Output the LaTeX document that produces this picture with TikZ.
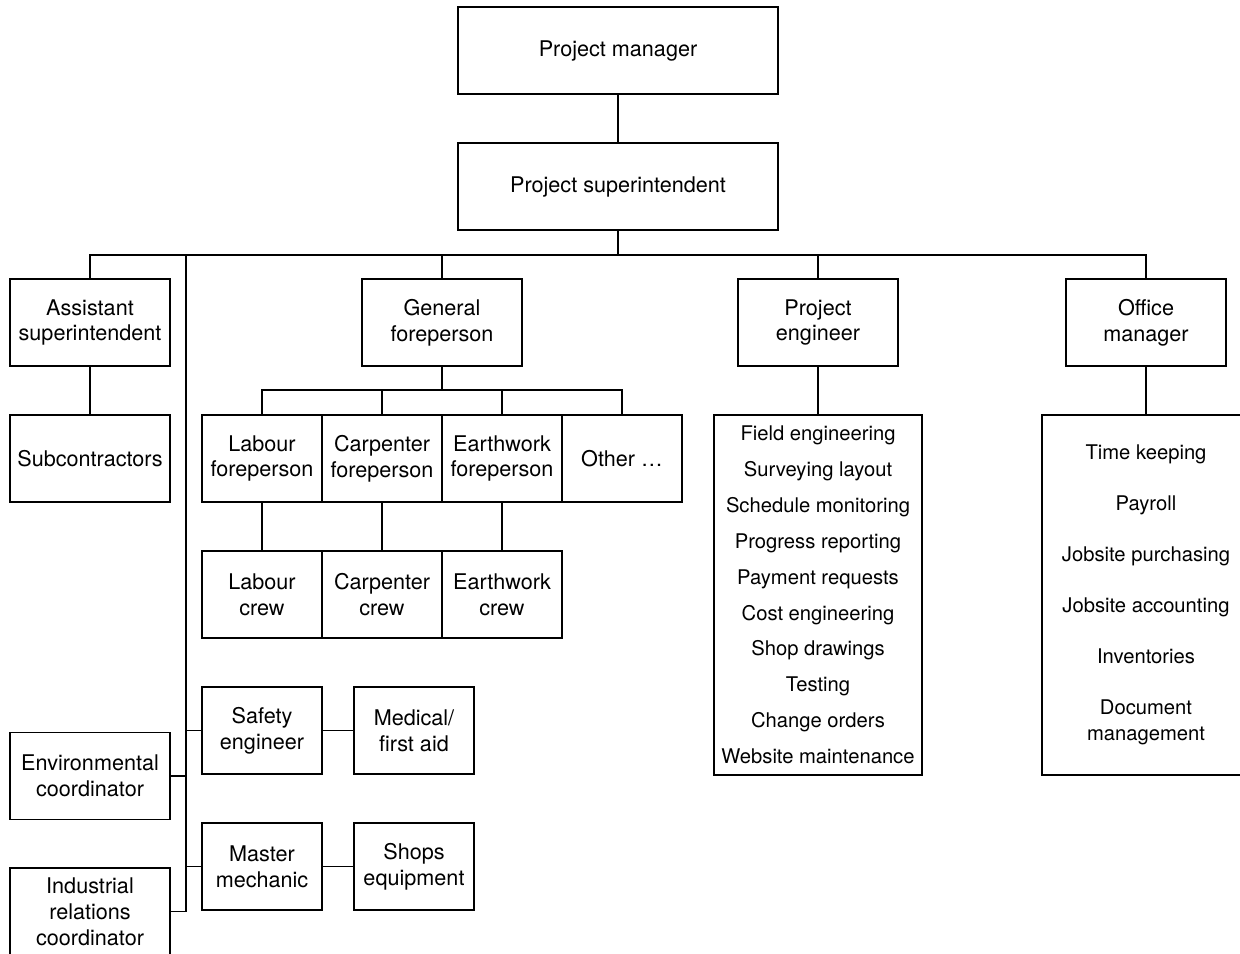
\documentclass[tikz,border=0pt]{standalone}
\usepackage{fontspec}
\setmainfont{TeX Gyre Heros}

\tikzset{
  box/.style={draw, align=center, inner sep=0pt, minimum width=32mm,
    minimum height=17.4mm, font=\fontsize{12.3}{14.7}\selectfont},
  widebox/.style={box, minimum width=64mm},
  crewbox/.style={box, minimum width=24mm},
  listbox/.style={draw, align=center, inner sep=0pt, minimum width=41.6mm,
    minimum height=72mm},
}

\begin{document}
\begin{tikzpicture}[x=0.2mm,y=-0.2mm, line width=0.8pt]
\useasboundingbox (0,0) rectangle (1240,954);

% TOP
 \node[widebox] (pm) at (618,50.5) {Project manager};
 \node[widebox] (ps) at (618,186.5) {Project superintendent};

% SECOND ROW
 \node[box] (asst)   at (90,322.5)   {Assistant\\superintendent};
 \node[box] (gen)    at (442,322.5)  {General\\foreperson};
 \node[box] (peng)   at (818,322.5)  {Project\\engineer};
 \node[box] (office) at (1146,322.5) {Office\\manager};

 \node[box] (sub) at (90,458.5) {Subcontractors};

% FOREPERSONS AND CREWS
 \node[crewbox] (labf) at (262,458.5) {Labour\\foreperson};
 \node[crewbox] (carf) at (382,458.5) {Carpenter\\foreperson};
 \node[crewbox] (earf) at (502,458.5) {Earthwork\\foreperson};
 \node[crewbox] (oth)  at (622,458.5) {Other \dots};

 \node[crewbox] (labc) at (262,594.5) {Labour\\crew};
 \node[crewbox] (carc) at (382,594.5) {Carpenter\\crew};
 \node[crewbox] (earc) at (502,594.5) {Earthwork\\crew};

% STAFF ON THE LEFT
 \node[crewbox] (safety) at (262,730.5) {Safety\\engineer};
 \node[crewbox] (med)    at (414,730.5) {Medical/\\first aid};
 \node[crewbox] (master) at (262,866.5) {Master\\mechanic};
 \node[crewbox] (shops)  at (414,866.5) {Shops\\equipment};

 \node[box] (env) at (90,776)   {Environmental\\coordinator};
 \node[box] (ind) at (90,911.5) {Industrial\\relations\\coordinator};

% DUTY LISTS
 \node[listbox, font=\fontsize{11.5}{20.4}\selectfont] (englist) at (818,595)
   {Field engineering\\Surveying layout\\Schedule monitoring\\Progress reporting\\
    Payment requests\\Cost engineering\\Shop drawings\\Testing\\Change orders\\
    Website maintenance};
 \node[listbox, font=\fontsize{11.5}{14.7}\selectfont] (offlist) at (1146,595)
   {Time keeping\\[14.3pt]Payroll\\[14.3pt]Jobsite purchasing\\[14.3pt]
    Jobsite accounting\\[14.3pt]Inventories\\[14.3pt]Document\\management};

% LINES
 \coordinate (bus)   at (618,255);
 \coordinate (spine) at (186,255);
 \coordinate (fbus)  at (442,390);

 \draw (pm) -- (ps);
 \draw (ps) -- (bus);
 \draw (asst.north) |- (bus) -| (office.north);
 \draw (gen.north) -- (gen.north |- bus);
 \draw (peng.north) -- (peng.north |- bus);

 \draw (asst) -- (sub);
 \draw (peng) -- (englist);
 \draw (office) -- (offlist);

 \draw (gen) -- (fbus);
 \draw (labf.north) |- (fbus) -| (oth.north);
 \draw (carf.north) -- (carf.north |- fbus);
 \draw (earf.north) -- (earf.north |- fbus);

 \draw (labf) -- (labc);
 \draw (carf) -- (carc);
 \draw (earf) -- (earc);

 \draw (spine) |- (ind.east);
 \draw (env.east) -- (env.east -| spine);
 \draw (safety.west) -- (safety.west -| spine);
 \draw (master.west) -- (master.west -| spine);
 \draw (safety) -- (med);
 \draw (master) -- (shops);

\end{tikzpicture}
\end{document}
